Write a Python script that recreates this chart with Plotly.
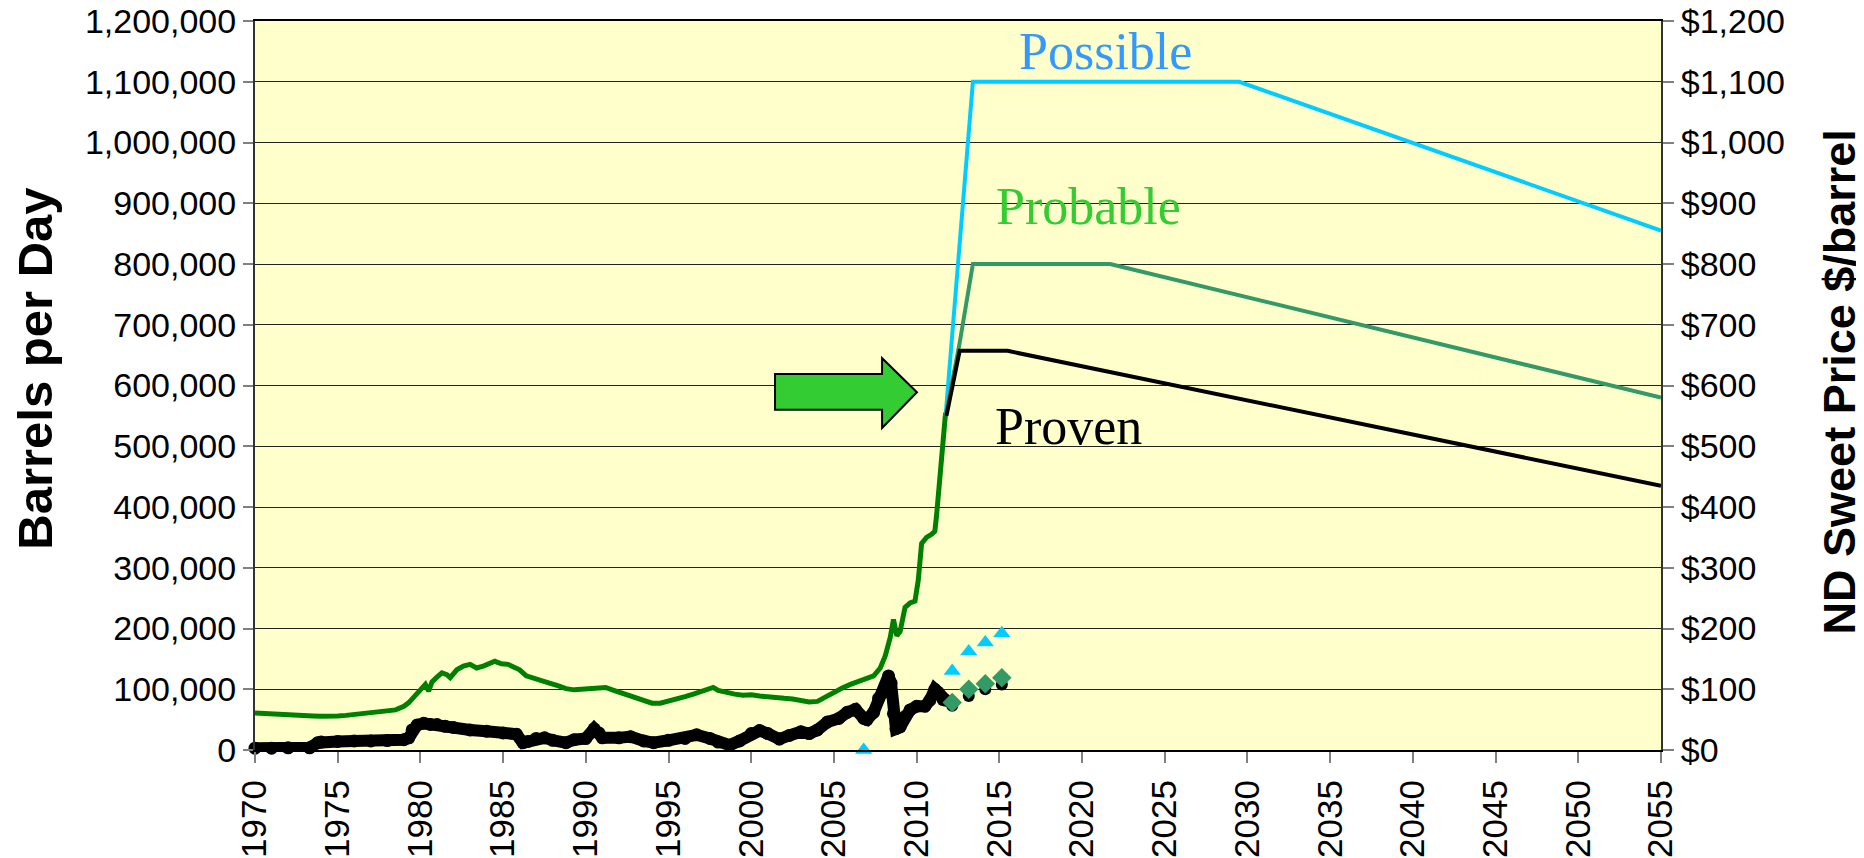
import plotly.graph_objects as go

# North Dakota crude production (barrels per day)
prod_years = [
    1970.0, 1970.5, 1971.0, 1971.5, 1972.0, 1972.5, 1973.0, 1973.5, 1974.0, 1974.5,
    1975.0, 1975.5, 1976.0, 1976.5, 1977.0, 1977.5, 1978.0, 1978.5, 1979.0, 1979.3,
    1979.6, 1980.0, 1980.3, 1980.5, 1980.7, 1981.0, 1981.3, 1981.6, 1981.8, 1982.2,
    1982.6, 1983.0, 1983.4, 1983.8, 1984.2, 1984.5, 1984.9, 1985.3, 1985.6, 1986.0,
    1986.4, 1986.8, 1987.3, 1987.8, 1988.3, 1988.8, 1989.3, 1989.8, 1990.3, 1990.8,
    1991.2, 1991.6, 1992.0, 1992.5, 1993.0, 1993.5, 1994.0, 1994.5, 1995.0, 1995.5,
    1996.0, 1996.5, 1997.0, 1997.4, 1997.7, 1998.0, 1998.5, 1999.0, 1999.5, 2000.0,
    2000.5, 2001.0, 2001.5, 2002.0, 2002.5, 2003.0, 2003.5, 2004.0, 2004.5, 2005.0,
    2005.5, 2006.0, 2006.5, 2007.0, 2007.4, 2007.8, 2008.1, 2008.4, 2008.6, 2008.8,
    2009.0, 2009.3, 2009.6, 2009.9, 2010.1, 2010.3, 2010.6, 2010.9, 2011.1, 2011.2,
    2011.4, 2011.6, 2011.75,
]
prod_bpd = [
    61000, 60000, 60500, 59000, 58000, 57500, 56500, 56000, 55500, 55000,
    56000, 57000, 58500, 60000, 61000, 62000, 63000, 66000, 72000, 78000,
    87000, 100000, 108000, 97000, 112000, 120000, 127000, 124000, 119000, 132000,
    138000, 141000, 135000, 138000, 143000, 146000, 142000, 141000, 137000, 132000,
    122000, 118000, 114000, 110000, 106000, 101000, 99000, 100000, 101000, 101000,
    103000, 99000, 95000, 90000, 86000, 80000, 77000, 77000, 80000, 83000,
    88000, 92000, 96000, 100000, 103000, 98000, 94000, 92000, 90000, 91000,
    89000, 87000, 86000, 85000, 84000, 82000, 79000, 80000, 88000, 96000,
    102000, 108000, 113000, 116000, 122000, 135000, 155000, 185000, 215000, 188000,
    195000, 235000, 242000, 245000, 280000, 340000, 350000, 355000, 360000, 385000,
    450000, 530000, 555000,
]

# ND sweet crude price ($/barrel)
price_years = [
    1970.0, 1971.0, 1972.0, 1973.3, 1973.8, 1974.0, 1975.0, 1976.0, 1977.0, 1978.0,
    1979.0, 1979.3, 1979.5, 1979.8, 1980.2, 1980.6, 1981.0, 1981.5, 1982.0, 1983.0,
    1984.0, 1985.0, 1985.8, 1986.2, 1986.5, 1987.0, 1987.5, 1988.0, 1988.8, 1989.3,
    1990.0, 1990.5, 1990.8, 1991.0, 1992.0, 1992.7, 1993.5, 1994.1, 1995.0, 1996.0,
    1996.7, 1997.5, 1998.0, 1998.7, 1999.3, 2000.0, 2000.5, 2001.0, 2001.7, 2002.3,
    2003.0, 2003.5, 2004.0, 2004.6, 2005.3, 2005.8, 2006.3, 2006.8, 2007.0, 2007.4,
    2007.7, 2008.0, 2008.3, 2008.45, 2008.6, 2008.75, 2009.0, 2009.3, 2009.6, 2010.0,
    2010.5, 2010.8, 2011.1, 2011.3, 2011.6, 2011.75,
]
price_usd = [
    3, 3, 3.5, 3.5, 12, 13, 14, 15, 15, 15.5,
    17, 20, 33, 41, 44, 42, 42, 39, 37, 33,
    31, 28, 26, 12, 14, 19, 20, 16, 12, 17,
    19, 35, 28, 20, 20, 22, 15, 12, 16, 19,
    25, 19, 13, 8, 15, 27, 32, 27, 18, 24,
    30, 27, 33, 46, 52, 62, 67, 52, 50, 62,
    85, 95, 122, 110, 60, 35, 38, 55, 66, 72,
    72, 82, 100, 95, 83, 82,
]

# price outlook markers
outlook_years = [2012.15, 2013.15, 2014.15, 2015.15]
outlook_low = [73, 89, 100, 108]
outlook_mid = [78, 100, 109, 119]
high_years = [2006.8, 2012.15, 2013.15, 2014.15, 2015.15]
outlook_high = [0, 130, 162, 177, 192]

# production scenarios
possible_years = [2011.75, 2013.4, 2029.5, 2055]
possible_bpd = [550000, 1100000, 1100000, 855000]
probable_years = [2011.75, 2012.6, 2013.4, 2021.7, 2055]
probable_bpd = [550000, 670000, 800000, 800000, 580000]
proven_years = [2011.8, 2012.6, 2015.5, 2055]
proven_bpd = [550000, 657000, 657000, 435000]

x_ticks = list(range(1970, 2056, 5))
y_ticks = list(range(0, 1200001, 100000))
y2_ticks = list(range(0, 1201, 100))
y2_labels = ['${:,}'.format(v) for v in y2_ticks]

fig = go.Figure()

fig.add_trace(go.Scatter(
    x=prod_years, y=prod_bpd, mode='lines',
    line=dict(color='#008000', width=5),
))
fig.add_trace(go.Scatter(
    x=possible_years, y=possible_bpd, mode='lines',
    line=dict(color='#00CCFF', width=4),
))
fig.add_trace(go.Scatter(
    x=probable_years, y=probable_bpd, mode='lines',
    line=dict(color='#339966', width=4),
))
fig.add_trace(go.Scatter(
    x=proven_years, y=proven_bpd, mode='lines',
    line=dict(color='#000000', width=4),
))
fig.add_trace(go.Scatter(
    x=price_years, y=price_usd, mode='lines+markers', yaxis='y2',
    line=dict(color='#000000', width=12),
    marker=dict(color='#000000', size=13),
    cliponaxis=False,
))
fig.add_trace(go.Scatter(
    x=outlook_years, y=outlook_low, mode='markers', yaxis='y2',
    marker=dict(color='#000000', size=12, symbol='circle'),
))
fig.add_trace(go.Scatter(
    x=outlook_years, y=outlook_mid, mode='markers', yaxis='y2',
    marker=dict(color='#339966', size=15, symbol='diamond'),
))
fig.add_trace(go.Scatter(
    x=high_years, y=outlook_high, mode='markers', yaxis='y2',
    marker=dict(color='#00CCFF', size=15, symbol='triangle-up'),
    cliponaxis=False,
))

# green arrow pointing at the 2012 start of the scenarios
fig.add_shape(
    type='path', xref='x', yref='y',
    path='M 2001.44,560000 L 2001.44,619000 L 2007.91,619000 L 2007.91,645000 '
         'L 2010.02,589000 L 2007.91,530000 L 2007.91,560000 Z',
    fillcolor='#33CC33', line=dict(color='#000000', width=2),
)

serif = 'Liberation Serif, Times New Roman, serif'
for text, x, y, color in [
    ('Possible', 2021.4, 1150000, '#3399FF'),
    ('Probable', 2020.4, 895000, '#33CC33'),
    ('Proven', 2019.2, 533000, '#000000'),
]:
    fig.add_annotation(
        x=x, y=y, xref='x', yref='y', text=text, showarrow=False,
        font=dict(family=serif, size=52, color=color),
    )

fig.add_annotation(
    x=-0.1565, y=0.523, xref='paper', yref='paper', text='<b>Barrels per Day</b>',
    textangle=-90, showarrow=False, xanchor='center', yanchor='middle',
    font=dict(size=49, color='#000000'),
)
fig.add_annotation(
    x=1.127, y=0.505, xref='paper', yref='paper', text='<b>ND Sweet Price $/barrel</b>',
    textangle=-90, showarrow=False, xanchor='center', yanchor='middle',
    font=dict(size=45, color='#000000'),
)

# the page body adds an 8px offset, so the figure is 8px smaller than the window
fig.update_layout(
    width=1856, height=850,
    margin=dict(l=247, r=203, t=13, b=108),
    paper_bgcolor='#FFFFFF', plot_bgcolor='#FFFFCC',
    showlegend=False, hovermode=False,
    font=dict(family='Liberation Sans, Arial, sans-serif', size=34, color='#000000'),
    xaxis=dict(
        range=[1970, 2055], tickvals=x_ticks, tickangle=-90, automargin=False,
        showgrid=False, zeroline=False, tickfont=dict(size=35),
        showline=True, mirror=True, linecolor='#000000', linewidth=2,
        ticks='outside', ticklen=11, tickcolor='#808080', tickwidth=2,
        ticklabelstandoff=3, ticklabeloverflow='allow',
    ),
    yaxis=dict(
        range=[0, 1200000], tickvals=y_ticks, tickformat=',', automargin=False,
        showgrid=True, gridcolor='#222222', gridwidth=1, zeroline=False,
        showline=True, linecolor='#333333', linewidth=2,
        ticks='outside', ticklen=10, tickcolor='#808080', tickwidth=2,
        ticklabeloverflow='allow',
    ),
    yaxis2=dict(
        range=[0, 1200], tickvals=y2_ticks, ticktext=y2_labels, automargin=False,
        overlaying='y', side='right', showgrid=False, zeroline=False,
        showline=True, linecolor='#333333', linewidth=2,
        ticks='outside', ticklen=11, tickcolor='#808080', tickwidth=2,
        ticklabeloverflow='allow',
    ),
)

fig.write_html("out.html")
